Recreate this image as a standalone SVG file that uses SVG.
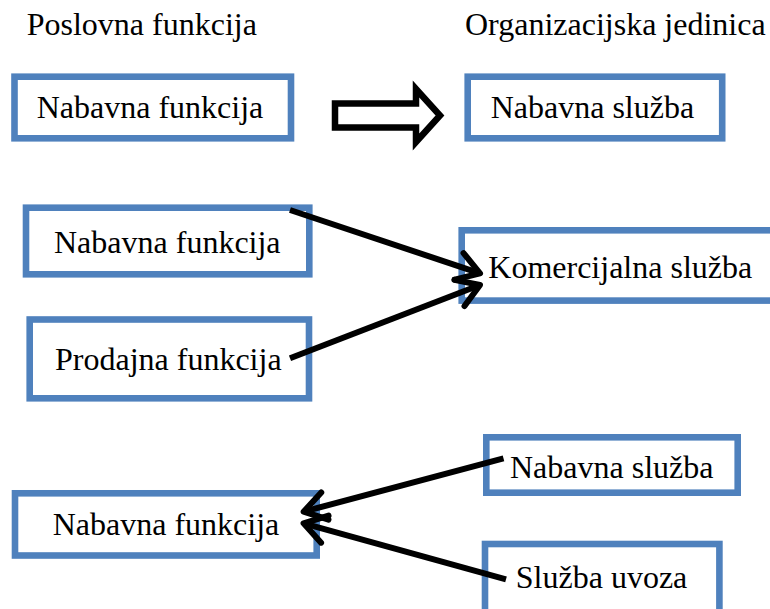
<svg xmlns="http://www.w3.org/2000/svg" width="770" height="609" viewBox="0 0 770 609">
<style>
.box{fill:#fff;stroke:#4F81BD;stroke-width:6.6}
.t{font-family:'Liberation Serif','DejaVu Serif',serif;font-size:32px;fill:#000}
.conn{stroke:#000;stroke-width:6;fill:none;stroke-linecap:butt}
</style>
<defs>
<marker id="ah" markerUnits="userSpaceOnUse" viewBox="-30 -20 40 40" markerWidth="40" markerHeight="40" refX="0" refY="0" orient="auto" overflow="visible">
<path d="M-22,-14 L0,0 L-22,14" fill="none" stroke="#000" stroke-width="6" stroke-linecap="round" stroke-linejoin="round"/>
</marker>
</defs>
<rect width="770" height="609" fill="#fff"/>
<g id="title-left"><text class="t" x="26.7" y="35">Poslovna funkcija</text></g>
<g id="title-right"><text class="t" x="465" y="35">Organizacijska jedinica</text></g>

<g id="n1"><rect class="box" x="14.5" y="76.7" width="276.5" height="61.6"/><text class="t" x="36.7" y="118.3">Nabavna funkcija</text></g>
<g id="n2"><rect class="box" x="467.7" y="76.7" width="254.5" height="61.6"/><text class="t" x="490.7" y="118.3">Nabavna služba</text></g>

<g id="n3"><rect class="box" x="26" y="207.7" width="283.3" height="66.6"/><text class="t" x="54" y="253.3">Nabavna funkcija</text></g>
<g id="n4"><rect class="box" x="461.7" y="230.3" width="330" height="70.3"/><text class="t" x="488.3" y="277.7">Komercijalna služba</text></g>
<g id="n5"><rect class="box" x="29.7" y="319.5" width="279.3" height="78.8"/><text class="t" x="55" y="370">Prodajna funkcija</text></g>

<g id="n6"><rect class="box" x="15" y="493.3" width="301.7" height="62.2"/><text class="t" x="52.7" y="535">Nabavna funkcija</text></g>
<g id="n7"><rect class="box" x="486.3" y="437.3" width="251.4" height="55.4"/><text class="t" x="510" y="478.3">Nabavna služba</text></g>
<g id="n8"><rect class="box" x="485" y="544" width="234.4" height="80"/><text class="t" x="515.8" y="588.3">Služba uvoza</text></g>

<g id="connectors">
<polygon points="335,103.5 416,103.5 416,89 440,115.5 416,142 416,127.5 335,127.5" fill="#fff" stroke="#000" stroke-width="6.5" stroke-linejoin="miter"/>
<path class="conn" d="M290,210 L480,273.3" marker-end="url(#ah)"/>
<path class="conn" d="M290,358.3 L480,285" marker-end="url(#ah)"/>
<path class="conn" d="M503.5,458.3 L303.6,511.7" marker-end="url(#ah)"/>
<path class="conn" d="M506,579.3 L303.6,523.3" marker-end="url(#ah)"/>
</g>
</svg>
